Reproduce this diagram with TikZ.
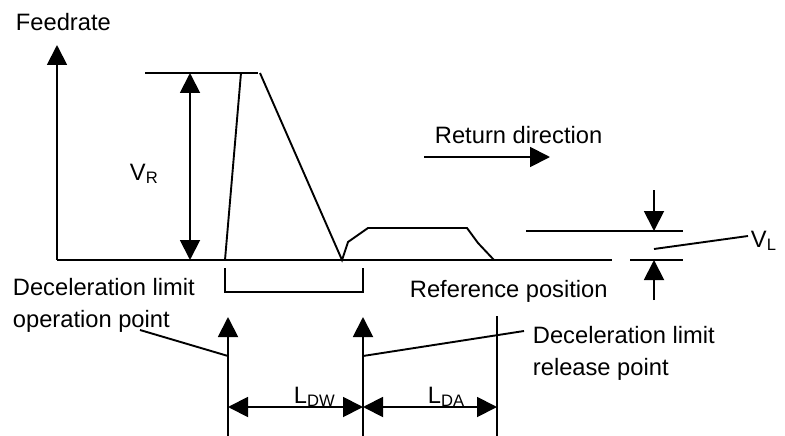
\documentclass[tikz,border=0pt]{standalone}
\usepackage{fontspec}
\setmainfont{Liberation Sans}
\usetikzlibrary{arrows.meta}
\begin{document}
\begin{tikzpicture}[x=1pt,y=-1pt,
  line width=1.9pt,
  >={Triangle[length=20pt,width=20pt]},
  lbl/.style={inner sep=0pt,anchor=base west,font=\fontsize{23.7}{28}\selectfont}]
\useasboundingbox (0,0) rectangle (785,436);
% axis and baseline
\coordinate (o) at (57,260);
\coordinate (ytip) at (57,45);
\coordinate (bend) at (612,260);
\draw[->] (o) -- (ytip);
\draw (o) -- (bend);
% top level line
\coordinate (t1) at (145,73);
\coordinate (t2) at (258,73);
\draw (t1) -- (t2);
% VR arrow
\coordinate (vr1) at (190,73);
\coordinate (vr2) at (190,260);
\draw[<->] (vr1) -- (vr2);
% speed profile
\coordinate (r1) at (225,260);
\coordinate (r2) at (241,73);
\draw (r1) -- (r2);
\coordinate (f1) at (260,73);
\coordinate (f2) at (342,260);
\coordinate (f3) at (348,242);
\coordinate (f4) at (368,228);
\coordinate (f5) at (467,228);
\coordinate (f6) at (478,243);
\coordinate (f7) at (494,260);
\draw (f1) -- (f2) -- (f3) -- (f4) -- (f5) -- (f6) -- (f7);
% VL dimension
\coordinate (l1) at (526,231);
\coordinate (l2) at (683,231);
\coordinate (l3) at (630,260);
\coordinate (l4) at (683,260);
\draw (l1) -- (l2);
\draw (l3) -- (l4);
\coordinate (va) at (654,190);
\coordinate (vb) at (654,231);
\coordinate (vc) at (654,300);
\coordinate (vd) at (654,260);
\draw[->] (va) -- (vb);
\draw[->] (vc) -- (vd);
\coordinate (vlp) at (654,249);
\coordinate (vlq) at (748,236);
\draw (vlp) -- (vlq);
% bracket
\coordinate (b1) at (225,268);
\coordinate (b2) at (225,292);
\coordinate (b3) at (363,292);
\coordinate (b4) at (363,268);
\draw (b1) -- (b2) -- (b3) -- (b4);
% bottom markers
\coordinate (m1b) at (228,436);
\coordinate (m1t) at (228,317);
\coordinate (m2b) at (363,436);
\coordinate (m2t) at (363,317);
\coordinate (m3b) at (497,436);
\coordinate (m3t) at (497,316);
\draw[->] (m1b) -- (m1t);
\draw[->] (m2b) -- (m2t);
\draw (m3b) -- (m3t);
\coordinate (d1) at (228,407);
\coordinate (d2) at (363,407);
\coordinate (d3) at (497,407);
\draw[<->] (d1) -- (d2);
\draw[<->] (d2) -- (d3);
% leaders
\coordinate (p1) at (140,330);
\coordinate (p2) at (228,356);
\draw (p1) -- (p2);
\coordinate (q1) at (363,356);
\coordinate (q2) at (524,331);
\draw (q1) -- (q2);
% return direction arrow
\coordinate (ra) at (424,157);
\coordinate (rb) at (550,157);
\draw[->] (ra) -- (rb);
% labels
\node[lbl] (feed) at (15,31) {Feedrate};
\node[lbl] (vrl) at (129,180) {V\textsubscript{R}};
\node[lbl] (ret) at (434,143) {Return direction};
\node[lbl] (vll) at (750,247) {V\textsubscript{L}};
\node[lbl] (op1) at (12,295) {Deceleration limit};
\node[lbl] (op2) at (12,327) {operation point};
\node[lbl] (refp) at (409,297) {Reference position};
\node[lbl] (rel1) at (532,343) {Deceleration limit};
\node[lbl] (rel2) at (532,375) {release point};
\node[lbl] (ldw) at (293,403) {L\textsubscript{DW}};
\node[lbl] (lda) at (427,403) {L\textsubscript{DA}};
\end{tikzpicture}
\end{document}
